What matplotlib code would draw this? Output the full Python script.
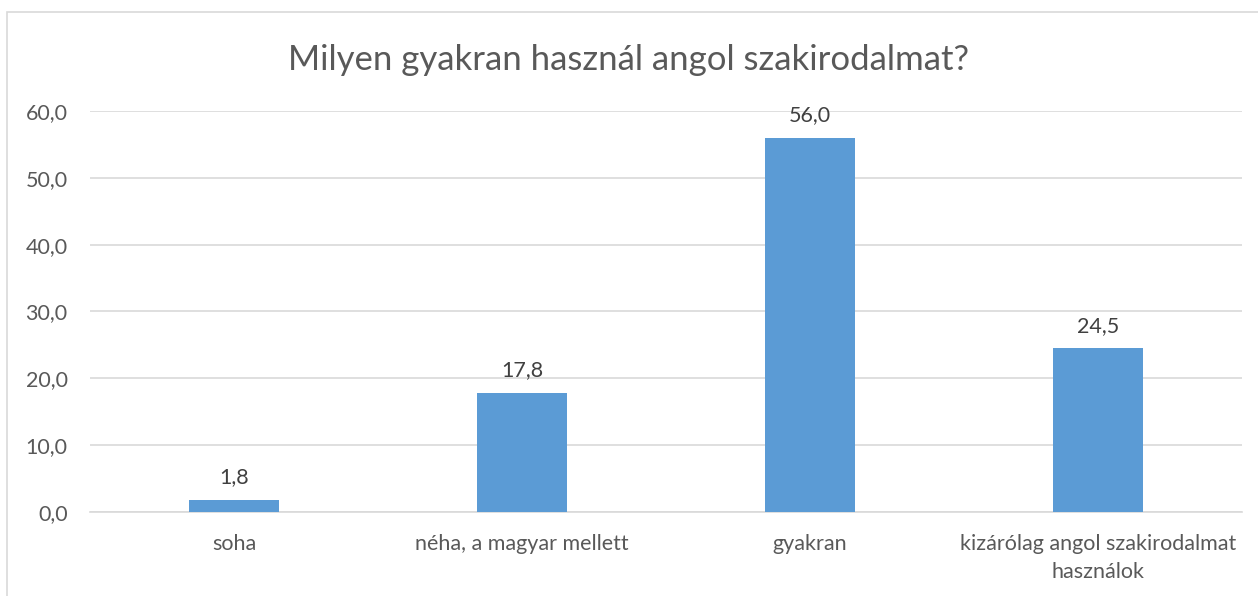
import matplotlib.pyplot as plt
from matplotlib.patches import Rectangle

categories = ["soha", "néha, a magyar mellett", "gyakran",
              "kizárólag angol szakirodalmat\nhasználok"]
values = [1.8, 17.8, 56.0, 24.5]
yticks = [0, 10, 20, 30, 40, 50, 60]

plt.rcParams['font.family'] = ['Lato', 'DejaVu Sans']
text_color = "#595959"
label_color = "#404040"
grid_color = "#D9D9D9"
bar_color = "#5B9BD5"

fig = plt.figure(figsize=(12.58, 5.96), dpi=100)
ax = fig.add_axes([0.0715, 0.1409, 0.9158, 0.6729])

# outer chart border (only left and top visible in the reference)
fig.patches.append(Rectangle((7 / 1258, -0.1), 2, (596 - 12) / 596 + 0.1,
                             transform=fig.transFigure, fill=False,
                             edgecolor=grid_color, linewidth=1.2))

x = range(len(categories))
bars = ax.bar(x, values, width=0.3125, color=bar_color, zorder=3)

for b, v in zip(bars, values):
    ax.annotate(f"{v:.1f}".replace(".", ","),
                (b.get_x() + b.get_width() / 2, v),
                xytext=(0, 9), textcoords="offset points",
                ha="center", va="bottom", fontsize=15.5, color=label_color)

ax.set_xlim(-0.5, len(categories) - 0.5)
ax.set_ylim(0, 60)
ax.set_yticks(yticks)
ax.set_yticklabels([f"{t:.1f}".replace(".", ",") for t in yticks])
ax.set_xticks(list(x))
ax.set_xticklabels(categories, linespacing=1.5)
ax.tick_params(axis="both", length=0, labelsize=15.5, colors=text_color)
ax.tick_params(axis="y", pad=16)
ax.tick_params(axis="x", pad=16)

ax.grid(axis="y", color=grid_color, linewidth=1.2, zorder=0)
for side in ["top", "right", "left"]:
    ax.spines[side].set_visible(False)
ax.spines["bottom"].set_color(grid_color)
ax.spines["bottom"].set_linewidth(1.2)

fig.text(0.5, 0.9, "Milyen gyakran használ angol szakirodalmat?",
         ha="center", va="center", fontsize=25, color=text_color)

fig.savefig("out.png", dpi=100)
